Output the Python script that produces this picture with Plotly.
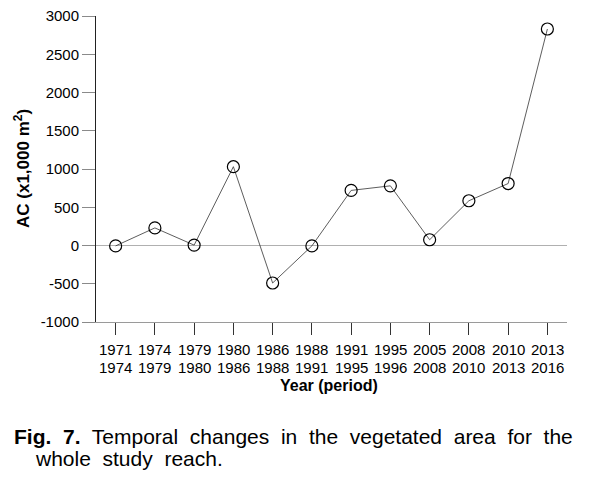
import plotly.graph_objects as go

periods_start = ["1971", "1974", "1979", "1980", "1986", "1988", "1991", "1995", "2005", "2008", "2010", "2013"]
periods_end = ["1974", "1979", "1980", "1986", "1988", "1991", "1995", "1996", "2008", "2010", "2013", "2016"]
ac_values = [-5, 230, 5, 1030, -490, -5, 720, 780, 75, 585, 810, 2830]
y_ticks = [-1000, -500, 0, 500, 1000, 1500, 2000, 2500, 3000]

xs = list(range(len(periods_start)))

FONT = "Liberation Sans, Arial, sans-serif"

# page body has an 8px margin; work in screen coordinates and convert
OFF = 8
W, H = 594 - OFF, 479 - OFF
PL, PR, PT, PB = 96 - OFF, 567 - OFF, 16 - OFF, 322 - OFF
PW, PH = PR - PL, PB - PT


def px(sx):
    return (sx - OFF - PL) / PW


def py(sy):
    return (PB - (sy - OFF)) / PH


fig = go.Figure()
fig.add_trace(go.Scatter(
    x=xs, y=ac_values, mode="lines+markers",
    line=dict(color="#333333", width=0.8),
    marker=dict(symbol="circle-open", size=12, color="#000000", line=dict(width=1.2, color="#000000")),
    showlegend=False,
))

annotations = []
for i, (a, b) in enumerate(zip(periods_start, periods_end)):
    annotations.append(dict(text=a, xref="x", yref="paper", x=i, y=py(350),
                            xanchor="center", yanchor="middle", showarrow=False,
                            font=dict(family=FONT, size=15, color="#000000")))
    annotations.append(dict(text=b, xref="x", yref="paper", x=i, y=py(367),
                            xanchor="center", yanchor="middle", showarrow=False,
                            font=dict(family=FONT, size=15, color="#000000")))

annotations += [
    dict(text="<b>Year (period)</b>", xref="paper", yref="paper", x=px(329), y=py(385),
         xanchor="center", yanchor="middle", showarrow=False,
         font=dict(family=FONT, size=16, color="#000000")),
    dict(text="<b>AC (x1,000 m<sup>2</sup>)</b>", xref="paper", yref="paper", x=px(22), y=py(169),
         xanchor="center", yanchor="middle", showarrow=False, textangle=-90,
         font=dict(family=FONT, size=17, color="#000000")),
    dict(text="<b>Fig.\u00a0 7.</b>\u00a0 Temporal\u00a0 changes\u00a0 in\u00a0 the\u00a0 vegetated\u00a0 area\u00a0 for\u00a0 the",
         xref="paper", yref="paper", x=px(12), y=py(436),
         xanchor="left", yanchor="middle", showarrow=False,
         font=dict(family=FONT, size=21, color="#000000")),
    dict(text="whole\u00a0 study\u00a0 reach.",
         xref="paper", yref="paper", x=px(33), y=py(458),
         xanchor="left", yanchor="middle", showarrow=False,
         font=dict(family=FONT, size=21, color="#000000")),
]

fig.update_layout(
    width=W, height=H,
    margin=dict(l=PL, r=W - PR, t=PT, b=H - PB, autoexpand=False),
    paper_bgcolor="white", plot_bgcolor="white",
    font=dict(family=FONT, size=15, color="#000000"),
    xaxis=dict(
        tickmode="array", tickvals=xs, showticklabels=False,
        range=[-0.5, len(xs) - 0.5],
        showgrid=False, zeroline=False, automargin=False,
        showline=True, linecolor="#9a9a9a", linewidth=1,
        ticks="outside", ticklen=12, tickcolor="#333333", tickwidth=1,
    ),
    yaxis=dict(
        tickmode="array", tickvals=y_ticks, ticktext=[str(v) for v in y_ticks],
        range=[-1000, 3000], automargin=False, ticklabeloverflow="allow",
        showgrid=False,
        zeroline=True, zerolinecolor="#b0b0b0", zerolinewidth=1,
        showline=True, linecolor="#222222", linewidth=1,
        ticks="outside", ticklen=13, tickcolor="#8a8a8a", tickwidth=1,
        tickfont=dict(size=15),
    ),
    annotations=annotations,
)

fig.write_html("out.html")
